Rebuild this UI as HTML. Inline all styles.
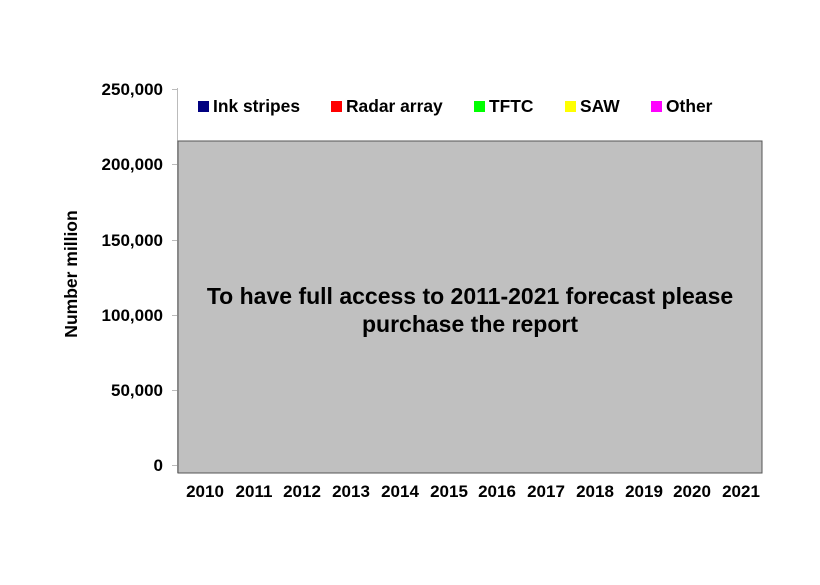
<!DOCTYPE html><html><head><style>body{margin:0;background:#fff}</style></head><body>
<svg width="820" height="580" xmlns="http://www.w3.org/2000/svg" font-family="Liberation Sans, Arial, sans-serif" font-weight="bold">
<rect width="820" height="580" fill="#fff"/>
<line x1="177.5" y1="88" x2="177.5" y2="473" stroke="#bbb"/>
<g stroke="#bbb"><line x1="172" y1="89.5" x2="177" y2="89.5"/><line x1="172" y1="164.5" x2="177" y2="164.5"/><line x1="172" y1="240.5" x2="177" y2="240.5"/><line x1="172" y1="315.5" x2="177" y2="315.5"/><line x1="172" y1="390.5" x2="177" y2="390.5"/><line x1="172" y1="465.5" x2="177" y2="465.5"/></g>
<rect x="178" y="141" width="584" height="332" fill="#c0c0c0" stroke="#555" stroke-width="1"/>
<g font-size="17" text-anchor="end" fill="#000">
<text x="163" y="95">250,000</text><text x="163" y="170">200,000</text><text x="163" y="246">150,000</text><text x="163" y="321">100,000</text><text x="163" y="396">50,000</text><text x="163" y="471">0</text></g>
<text transform="translate(77,274) rotate(-90)" font-size="17.5" text-anchor="middle">Number million</text>
<g font-size="17" text-anchor="middle">
<text x="205" y="497">2010</text><text x="254" y="497">2011</text><text x="302" y="497">2012</text><text x="351" y="497">2013</text><text x="400" y="497">2014</text><text x="449" y="497">2015</text><text x="497" y="497">2016</text><text x="546" y="497">2017</text><text x="595" y="497">2018</text><text x="644" y="497">2019</text><text x="692" y="497">2020</text><text x="741" y="497">2021</text></g>
<g font-size="17.4">
<rect x="198" y="101" width="11" height="11" fill="#000080"/><text x="213" y="112">Ink stripes</text>
<rect x="331" y="101" width="11" height="11" fill="#ff0000"/><text x="346" y="112">Radar array</text>
<rect x="474" y="101" width="11" height="11" fill="#00ff00"/><text x="489" y="112">TFTC</text>
<rect x="565" y="101" width="11" height="11" fill="#ffff00"/><text x="580" y="112">SAW</text>
<rect x="651" y="101" width="11" height="11" fill="#ff00ff"/><text x="666" y="112">Other</text></g>
<g font-size="23" text-anchor="middle"><text x="470" y="304">To have full access to 2011-2021 forecast please</text><text x="470" y="332">purchase the report</text></g>
</svg></body></html>
